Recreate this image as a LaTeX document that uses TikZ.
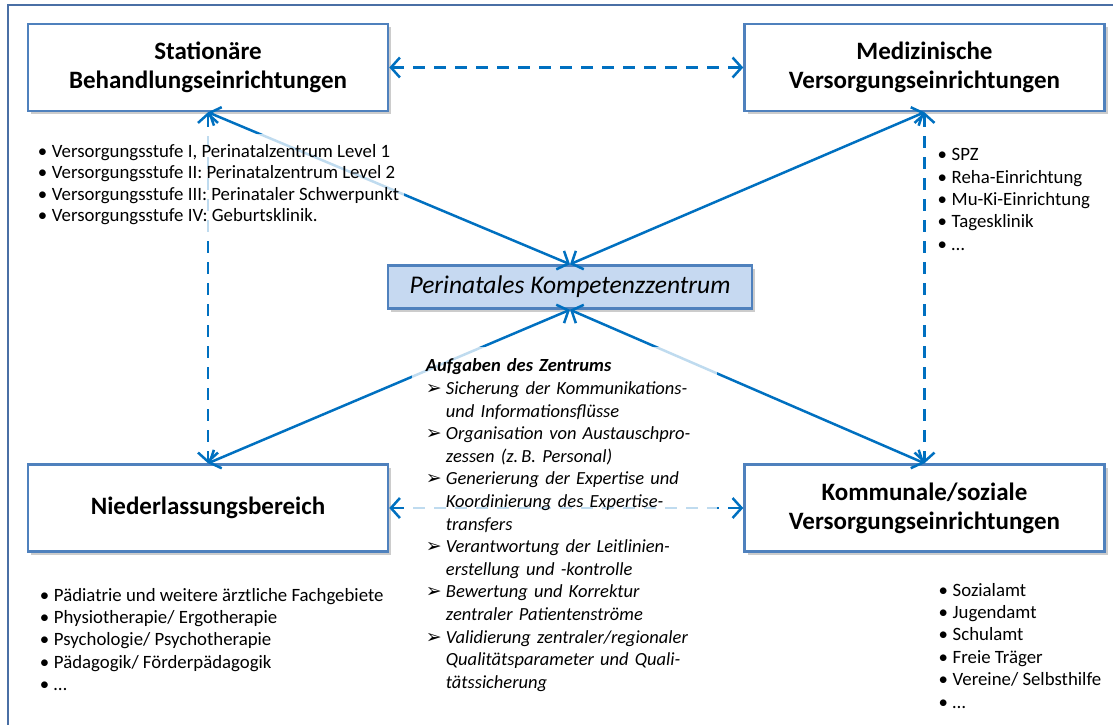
\documentclass[tikz,border=0pt]{standalone}
\usepackage{fontspec}
\setmainfont{Carlito}
\newfontfamily\symfont{DejaVu Sans}
\usepackage{xcolor}
\usetikzlibrary{positioning,shadows,arrows.meta}
\definecolor{boxblue}{HTML}{4F81BD}
\definecolor{linkblue}{HTML}{0070C0}
\definecolor{paleblue}{HTML}{C6D9F1}
\definecolor{framecol}{HTML}{4A6FA5}
\tikzstyle{hub}=[rectangle, draw=boxblue, line width=2.5pt, fill=white, text=black, align=center, minimum width=360pt, minimum height=87pt, font=\fontsize{25}{29}\selectfont\bfseries, drop shadow={shadow xshift=3pt, shadow yshift=-3pt, fill=black!40, opacity=0.5}]
\tikzstyle{core}=[hub, fill=paleblue, minimum width=364pt, minimum height=43pt, font=\fontsize{25.5}{28}\selectfont\itshape]
\tikzstyle{items}=[fill=white, fill opacity=0.75, text opacity=1, align=left, inner xsep=5pt, inner ysep=10pt, font=\fontsize{18.8}{22.4}\selectfont]
\tikzstyle{link}=[<->, draw=linkblue, line width=2.5pt]
\tikzstyle{dlink}=[link, dash pattern=on 12pt off 9pt]
\tikzset{>={Straight Barb[length=9pt,width=20pt]}}
\newcommand{\itm}{\makebox[14pt][l]{•}}
\newcommand{\task}{\makebox[20pt][l]{\symfont\upshape\fontsize{19}{19}\selectfont ➢}}
\newcommand{\cont}{\hspace*{20pt}}

\begin{document}
\begin{tikzpicture}[x=1pt,y=-1pt]
        \useasboundingbox (0,0) rectangle (1113,724);
        \draw [framecol, line width=1.5pt] (8,5) rectangle (1130,740);

        % the five institutions
        \node (stat) [hub] at (208,67.5) {Stationäre\\Behandlungseinrichtungen};
        \node (med) [hub, right=354pt of stat] {Medizinische\\Versorgungseinrichtungen};
        \node (niede) [hub, below=351pt of stat] {Niederlassungsbereich};
        \node (komm) [hub, right=354pt of niede] {Kommunale/soziale\\Versorgungseinrichtungen};
        \node (zentrum) [core] at (570,287) {Perinatales Kompetenzzentrum};

        \draw [dlink] (stat) -- (med);
        \draw [dlink] (stat) -- (niede);
        \draw [dlink] (med) -- (komm);
        \draw [dlink] (niede) -- (komm);

        \draw [link] (zentrum.north) -- (stat.south);
        \draw [link] (zentrum.north) -- (med.south);
        \draw [link] (zentrum.south) -- (niede.north);
        \draw [link] (zentrum.south) -- (komm.north);

        % lists
        \node (statlist) [items, font=\fontsize{18.8}{21.4}\selectfont, below right=22pt and 6pt of stat.south west] {\itm Versorgungsstufe I, Perinatalzentrum Level 1\\
            \itm Versorgungsstufe II: Perinatalzentrum Level 2\\
            \itm Versorgungsstufe III: Perinataler Schwerpunkt\\
            \itm Versorgungsstufe IV: Geburtsklinik.};

        \node (medlist) [items, below right=26pt and 8pt of med.south] {\itm SPZ\\
            \itm Reha-Einrichtung\\
            \itm Mu-Ki-Einrichtung\\
            \itm Tagesklinik\\
            \itm \dots};

        \node (niedelist) [items, below right=25pt and 8pt of niede.south west] {\itm Pädiatrie und weitere ärztliche Fachgebiete\\
            \itm Physiotherapie/ Ergotherapie\\
            \itm Psychologie/ Psychotherapie\\
            \itm Pädagogik/ Förderpädagogik\\
            \itm \dots};

        \node (kommlist) [items, below right=20pt and 9pt of komm.south] {\itm Sozialamt\\
            \itm Jugendamt\\
            \itm Schulamt\\
            \itm Freie Träger\\
            \itm Vereine/ Selbsthilfe\\
            \itm \dots};

        \node (aufgaben) [items, inner xsep=14pt, inner ysep=12pt, text width=277pt, font=\fontsize{18.5}{22.6}\selectfont\itshape, below right=37pt and 25pt of zentrum.south west] {\textbf{Aufgaben des Zentrums}\\
            \task Sicherung der Kommunikations-\\
            \cont und Informationsflüsse\\
            \task Organisation von Austauschpro-\\
            \cont zessen (z.\,B. Personal)\\
            \task Generierung der Expertise und\\
            \cont Koordinierung des Expertise-\\
            \cont transfers\\
            \task Verantwortung der Leitlinien-\\
            \cont erstellung und -kontrolle\\
            \task Bewertung und Korrektur\\
            \cont zentraler Patientenströme\\
            \task Validierung zentraler/regionaler\\
            \cont Qualitätsparameter und Quali-\\
            \cont tätssicherung};

\end{tikzpicture}
\end{document}
